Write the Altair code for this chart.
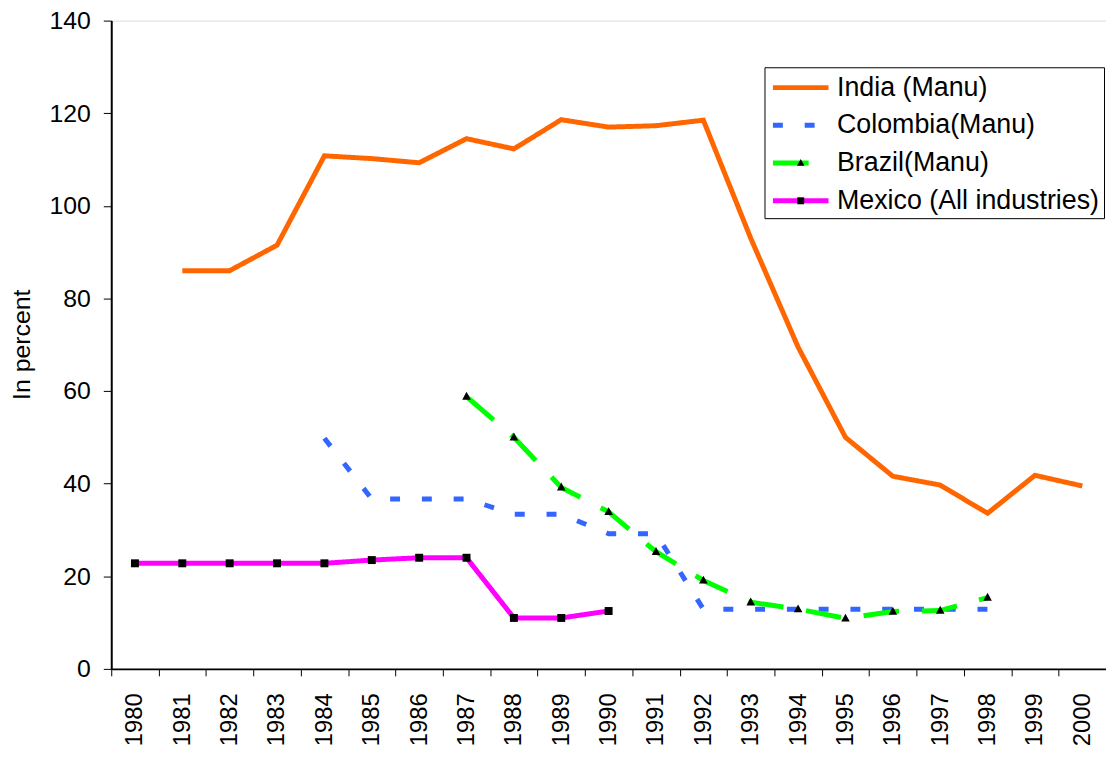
import altair as alt
import pandas as pd

years = [str(y) for y in range(1980, 2001)]
series = ["India (Manu)", "Colombia(Manu)", "Brazil(Manu)", "Mexico (All industries)"]

india = [None, 86, 86, 91.5, 110.8, 110.2, 109.3, 114.5, 112.3, 118.6, 117.0,
         117.3, 118.5, 93.0, 69.5, 50.0, 41.6, 39.7, 33.6, 41.8, 39.5]
colombia = [None, None, None, None, 49.8, 36.7, 36.7, 36.7, 33.4, 33.4, 29.2,
            29.2, 12.9, 12.9, 12.9, 12.9, 12.9, 12.9, 12.9, None, None]
brazil = [None, None, None, None, None, None, None, 58.8, 50.0, 39.2, 33.9,
          25.3, 19.1, 14.4, 12.9, 10.9, 12.4, 12.6, 15.4, None, None]
mexico = [22.8, 22.8, 22.8, 22.8, 22.8, 23.5, 24.0, 24.0, 11.0, 11.0, 12.5,
          None, None, None, None, None, None, None, None, None, None]

colors = ["#FF6600", "#3366FF", "#00FF00", "#FF00FF"]
dashes = [[1, 0], [10, 22], [36, 23], [1, 0]]
marker_keys = ["k1", "k2", "k3", "k4"]
TRIANGLE = "M0,-0.3L0.27,0.2L-0.27,0.2Z"
SQUARE = "M-0.25,-0.25L0.25,-0.25L0.25,0.25L-0.25,0.25Z"
marker_shapes = ["M0,0", "M0,0", TRIANGLE, SQUARE]
has_markers = [False, False, True, True]

rows = []
for i, (name, vals) in enumerate(zip(series, [india, colombia, brazil, mexico])):
    for yr, v in zip(years, vals):
        if v is not None:
            rows.append({"year": yr, "value": v, "series": name,
                         "mk": marker_keys[i], "marked": has_markers[i]})
df = pd.DataFrame(rows)

FONT = "Liberation Sans"

xenc = alt.X(
    "year:O",
    bandPosition=0.5,
    scale=alt.Scale(type="band", paddingInner=0, paddingOuter=0, domain=years),
    axis=alt.Axis(
        title=None, labelAngle=-90, labelFontSize=24, labelFont=FONT,
        labelColor="black", tickSize=7, tickColor="black", labelPadding=17,
        tickBand="extent", domainColor="black", domainWidth=2, grid=False,
    ),
)
yenc = alt.Y(
    "value:Q",
    scale=alt.Scale(domain=[0, 140], nice=False),
    axis=alt.Axis(
        title="In percent", values=list(range(0, 141, 20)), labelFontSize=25,
        labelFont=FONT, labelColor="black", tickSize=8, tickColor="black",
        labelPadding=13, domainColor="black", domainWidth=2, grid=False,
        titleFont=FONT, titleFontSize=25, titleFontWeight="normal",
        titleColor="black", titleAngle=-90, titleX=-90, titleY=326,
        titleAlign="center", titleBaseline="middle",
    ),
)

LEG_X, LEG_Y = 658, 47
common = dict(
    orient="none", legendX=LEG_X, legendY=LEG_Y, title=None,
    symbolSize=784, symbolOffset=16, symbolStrokeWidth=5,
    labelFontSize=27, labelFont=FONT, labelLimit=0,
    padding=4, rowPadding=8,
)
legend_main = alt.Legend(
    symbolType="M-2,0L2,0", labelColor="black", labelOffset=20,
    strokeColor="black", fillColor="white", **common,
)
legend_marks = alt.Legend(
    symbolFillColor="black", symbolStrokeColor="transparent",
    labelColor="black", labelOpacity=0, labelOffset=0, labelExpr="' '", **common,
)

lines = alt.Chart(df).mark_line(strokeWidth=5).encode(
    x=xenc,
    y=yenc,
    color=alt.Color("series:N", scale=alt.Scale(domain=series, range=colors),
                    legend=legend_main),
    strokeDash=alt.StrokeDash("series:N", scale=alt.Scale(domain=series, range=dashes),
                              legend=legend_main),
    detail="series:N",
)

points = alt.Chart(df).transform_filter("datum.marked").mark_point(
    filled=True, color="black", opacity=1, size=1024, strokeWidth=0
).encode(
    x=xenc,
    y=yenc,
    shape=alt.Shape("mk:N", scale=alt.Scale(domain=marker_keys, range=marker_shapes),
                    legend=legend_marks),
)

chart = alt.layer(lines, points).properties(
    width=1002, height=653,
    autosize=alt.AutoSizeParams(type="none"),
    padding={"left": 104, "top": 10, "right": 0, "bottom": 78},
).configure_view(stroke=None).configure(background="white")

chart.save("out.html", embed_options={"renderer": "svg", "actions": False})
